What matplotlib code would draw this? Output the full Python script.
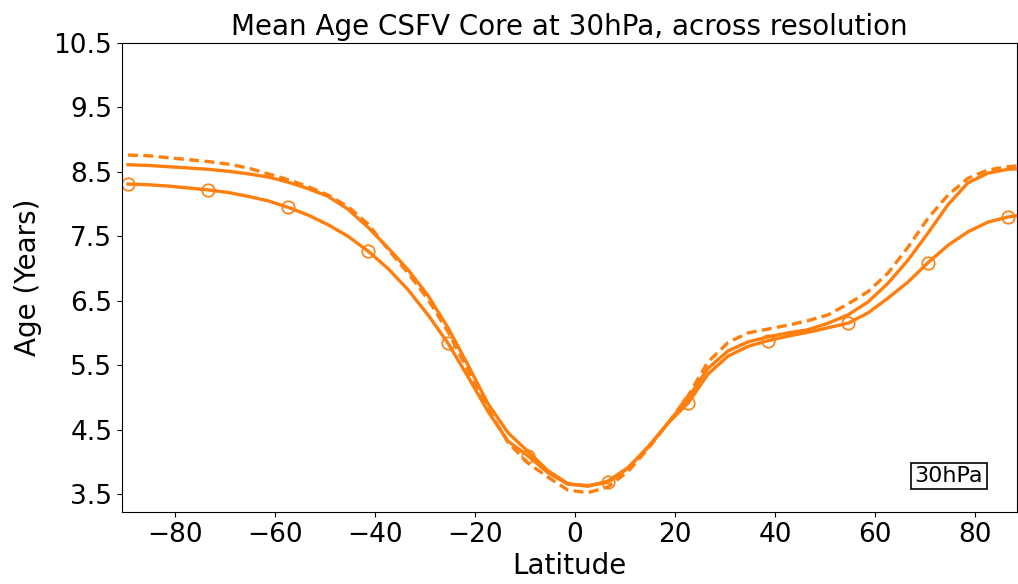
import matplotlib
matplotlib.use("Agg")
import matplotlib.pyplot as plt

lat = [-89.4, -85.4, -81.4, -77.4, -73.4, -69.4, -65.4, -61.4, -57.4, -53.4,
       -49.4, -45.4, -41.4, -37.4, -33.4, -29.4, -25.4, -21.4, -17.4, -13.4,
       -9.4, -5.4, -1.4, 2.6, 6.6, 10.6, 14.6, 18.6, 22.6, 26.6,
       30.6, 34.6, 38.6, 42.6, 46.6, 50.6, 54.6, 58.6, 62.6, 66.6,
       70.6, 74.6, 78.6, 82.6, 86.6, 89.4]

age_marked = [8.31, 8.30, 8.28, 8.25, 8.22, 8.18, 8.12, 8.05, 7.95, 7.83,
              7.68, 7.50, 7.27, 7.00, 6.67, 6.28, 5.84, 5.32, 4.78, 4.32,
              4.09, 3.83, 3.65, 3.63, 3.68, 3.90, 4.23, 4.60, 4.91, 5.36,
              5.64, 5.79, 5.88, 5.95, 6.01, 6.08, 6.15, 6.31, 6.54, 6.79,
              7.09, 7.36, 7.57, 7.72, 7.80, 7.83]

age_solid = [8.61, 8.60, 8.58, 8.56, 8.54, 8.51, 8.47, 8.42, 8.34, 8.24,
             8.12, 7.92, 7.64, 7.32, 6.98, 6.58, 6.08, 5.50, 4.90, 4.45,
             4.16, 3.86, 3.66, 3.62, 3.70, 3.91, 4.22, 4.60, 4.99, 5.45,
             5.72, 5.86, 5.94, 6.00, 6.05, 6.15, 6.28, 6.48, 6.77, 7.13,
             7.55, 7.99, 8.33, 8.48, 8.54, 8.55]

age_dashed = [8.76, 8.75, 8.72, 8.69, 8.66, 8.62, 8.56, 8.47, 8.38, 8.27,
              8.14, 7.96, 7.69, 7.30, 6.93, 6.52, 6.02, 5.42, 4.82, 4.30,
              3.98, 3.76, 3.56, 3.52, 3.61, 3.85, 4.20, 4.60, 5.02, 5.55,
              5.85, 6.00, 6.06, 6.12, 6.19, 6.28, 6.45, 6.64, 6.93, 7.33,
              7.78, 8.14, 8.40, 8.53, 8.58, 8.60]

yticks = [3.5, 4.5, 5.5, 6.5, 7.5, 8.5, 9.5, 10.5]
xticks = [-80, -60, -40, -20, 0, 20, 40, 60, 80]

color = "#ff7f0e"

fig = plt.figure(figsize=(10.18, 5.84), dpi=100)
ax = fig.add_axes([122 / 1018, 72 / 584, 895 / 1018, 469 / 584])

ax.plot(lat, age_marked, color=color, lw=2.4, marker="o", markevery=4,
        markersize=9, fillstyle="none", markeredgewidth=1.2)
ax.plot(lat, age_solid, color=color, lw=2.4)
ax.plot(lat, age_dashed, color=color, lw=2.4, linestyle=(0, (3.0, 1.6)))

ax.set_xlim(-90.6, 88.4)
ax.set_ylim(3.22, 10.5)
ax.set_yticks(yticks)
ax.set_xticks(xticks)
ax.tick_params(labelsize=19)
ax.set_xlabel("Latitude", fontsize=20, labelpad=3)
ax.set_ylabel("Age (Years)", fontsize=20, labelpad=8)
ax.set_title("Mean Age CSFV Core at 30hPa, across resolution", fontsize=20)

ax.text(0.924, 0.077, "30hPa", transform=ax.transAxes, fontsize=16,
        ha="center", va="center",
        bbox=dict(boxstyle="square,pad=0.15", facecolor="white",
                  edgecolor="black", lw=1.2))

fig.savefig("out.png", dpi=100)
